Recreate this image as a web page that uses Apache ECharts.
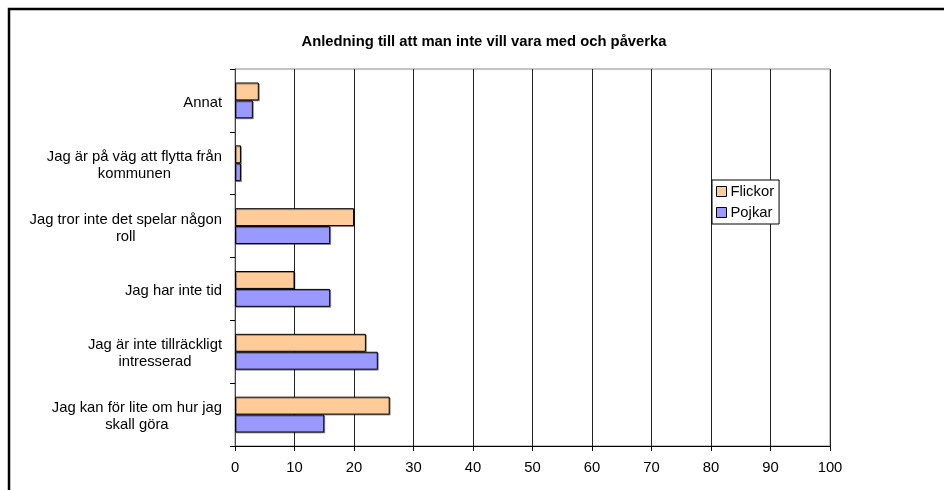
<!DOCTYPE html>
<html>
<head>
<meta charset="utf-8">
<script src="https://cdn.jsdelivr.net/npm/echarts@6/dist/echarts.min.js"></script>
<style>
html,body{margin:0;padding:0;background:#fff;}
#c{width:944px;height:490px;}
</style>
</head>
<body>
<div id="c"></div>
<script>
// Categories, top to bottom as in the picture
var categories = [
  'Annat',
  'Jag är på väg att flytta från\nkommunen',
  'Jag tror inte det spelar någon\nroll',
  'Jag har inte tid',
  'Jag är inte tillräckligt\nintresserad',
  'Jag kan för lite om hur jag\nskall göra'
];
var flickor = [4, 1, 20, 10, 22, 26];
var pojkar = [3, 1, 16, 16, 24, 15];
var seriesNames = ['Flickor', 'Pojkar'];
var xTicks = [0, 10, 20, 30, 40, 50, 60, 70, 80, 90, 100];

var FONT = '"Liberation Sans", Arial, sans-serif';
var chart = echarts.init(document.getElementById('c'), null, {renderer: 'canvas'});

var barStyle = function (color) {
  return {
    color: color,
    borderColor: '#000',
    borderWidth: 1,
    shadowColor: 'rgba(0,0,0,0.35)',
    shadowOffsetX: 1,
    shadowOffsetY: 1,
    shadowBlur: 0
  };
};

chart.setOption({
  backgroundColor: '#fff',
  animation: false,
  title: {
    text: 'Anledning till att man inte vill vara med och påverka',
    left: 479,
    top: 29,
    textAlign: 'center',
    textStyle: {fontFamily: FONT, fontSize: 14.8, fontWeight: 'bold', color: '#000'}
  },
  legend: {
    data: seriesNames,
    orient: 'vertical',
    left: 712,
    top: 180,
    itemWidth: 10,
    itemHeight: 10,
    itemGap: 6,
    padding: [4, 5, 4, 4],
    borderColor: '#000',
    borderWidth: 1,
    backgroundColor: '#fff',
    icon: 'rect',
    itemStyle: {borderColor: '#000', borderWidth: 1},
    textStyle: {fontFamily: FONT, fontSize: 14.8, color: '#000', padding: [0, 0, 0, -1]}
  },
  grid: {left: 235, right: 114, top: 69, bottom: 44, containLabel: false,
    show: true, borderColor: '#888', borderWidth: 1},
  xAxis: {
    type: 'value',
    min: xTicks[0],
    max: xTicks[xTicks.length - 1],
    interval: 10,
    axisLine: {show: true, lineStyle: {color: '#000', width: 1}},
    axisTick: {show: true, length: 5, lineStyle: {color: '#000'}},
    axisLabel: {fontFamily: FONT, fontSize: 14.8, color: '#000', margin: 14},
    splitLine: {show: true, lineStyle: {color: '#222', width: 1}}
  },
  yAxis: {
    type: 'category',
    data: categories,
    inverse: true,
    axisLine: {show: true, lineStyle: {color: '#444', width: 1}},
    axisTick: {show: true, length: 5, lineStyle: {color: '#000'}},
    axisLabel: {
      margin: 13,
      padding: [4, 0, 0, 0],
      fontFamily: FONT,
      fontSize: 14.8,
      color: '#000',
      formatter: function (v) {
        return v.split('\n').map(function (l) { return '{c|' + l + '}'; }).join('\n');
      },
      rich: {c: {align: 'center', fontFamily: FONT, fontSize: 14.8, color: '#000', lineHeight: 17}}
    },
    splitLine: {show: false}
  },
  series: [
    {name: seriesNames[0], type: 'bar', data: flickor, barGap: '0%', barCategoryGap: '43%', itemStyle: barStyle('#FFCC99')},
    {name: seriesNames[1], type: 'bar', data: pojkar, barGap: '0%', barCategoryGap: '43%', itemStyle: barStyle('#9999FF')}
  ],
  graphic: [
    {type: 'rect', silent: true, z: 100,
      shape: {x: 9, y: 9, width: 1100, height: 1100},
      style: {fill: null, stroke: '#000', lineWidth: 2.5}}
  ]
});
</script>
</body>
</html>
